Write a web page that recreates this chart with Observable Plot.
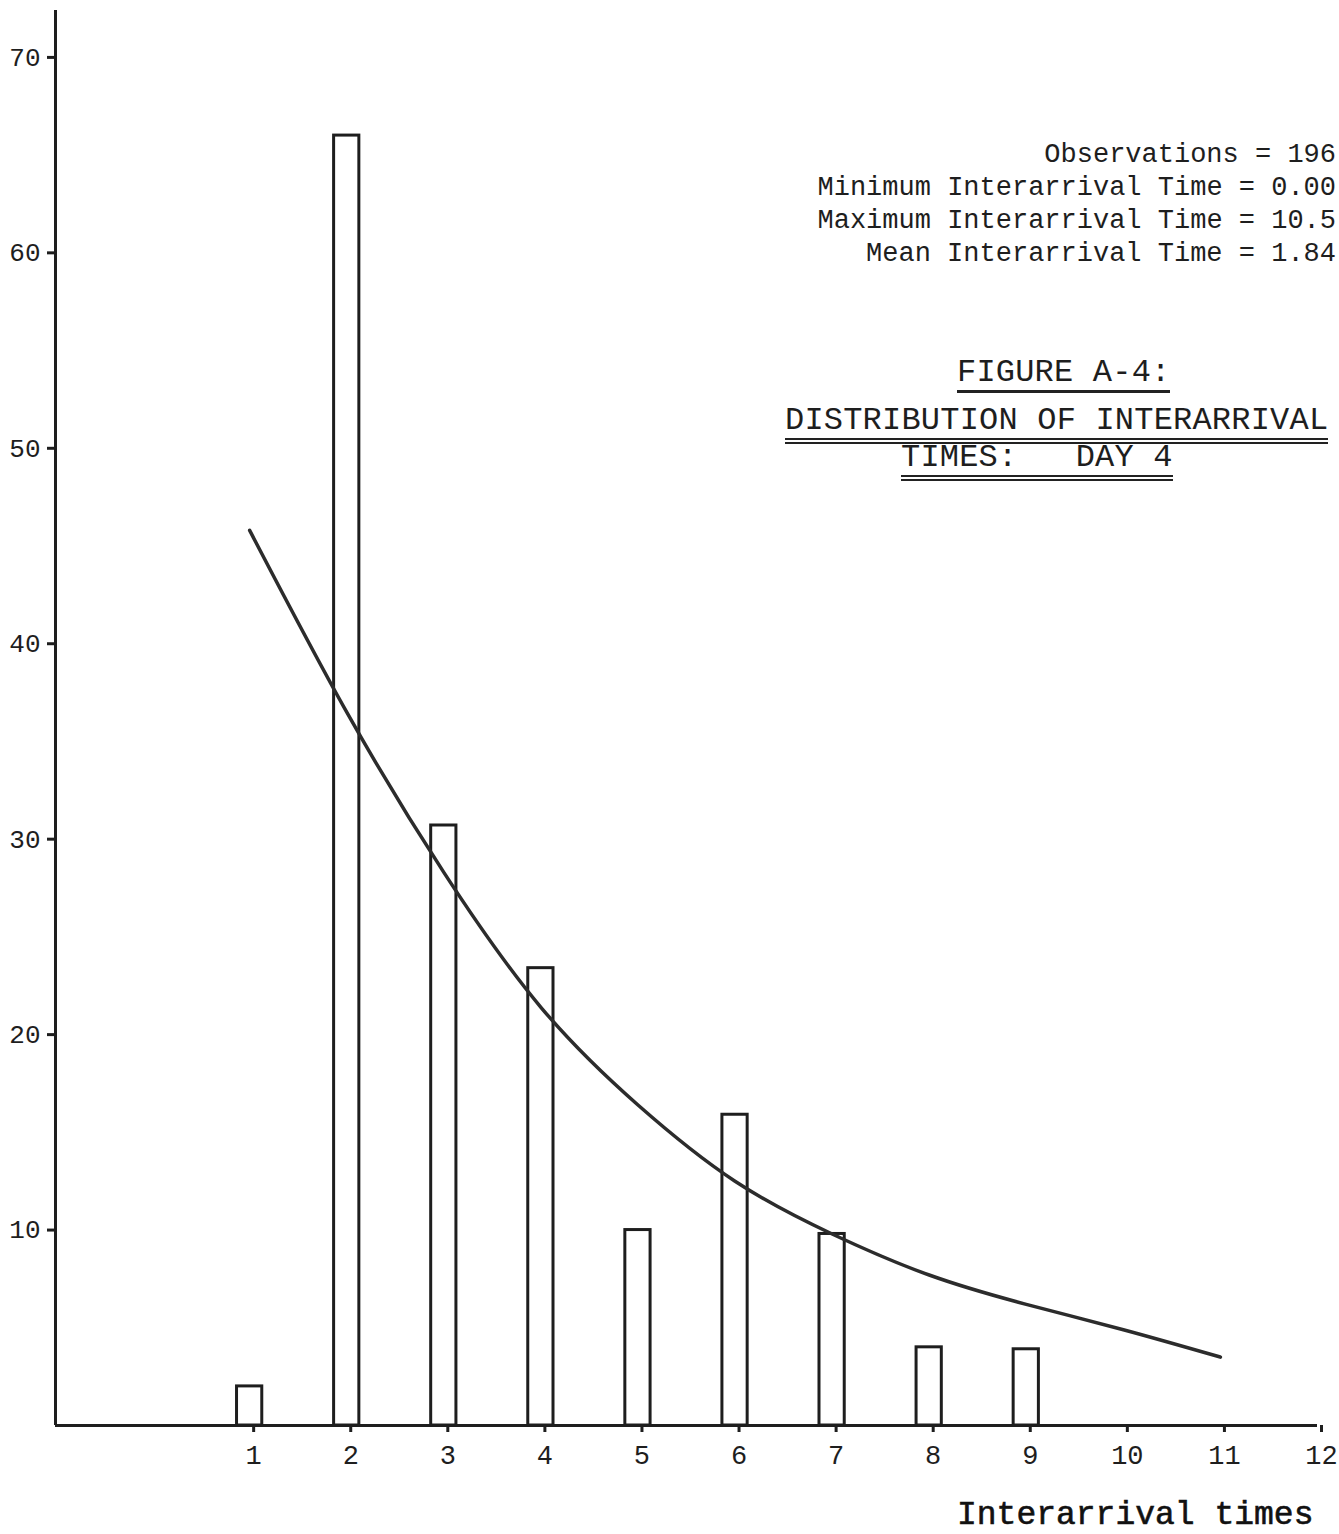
<!DOCTYPE html>
<html>
<head>
<meta charset="utf-8">
<script src="https://cdn.jsdelivr.net/npm/d3@7"></script>
<script src="https://cdn.jsdelivr.net/npm/@observablehq/plot@0.6"></script>
<style>
  html, body { margin: 0; padding: 0; background: #fff; }
  #wrap { position: relative; width: 1339px; height: 1534px; overflow: hidden; }
  .mono { font-family: "Liberation Mono", "DejaVu Sans Mono", monospace; color: #1e1e1e; position: absolute; white-space: pre; }
  #stats { right: 3px; top: 139px; font-size: 27px; line-height: 33px; text-align: right; }
  .tline { font-size: 32px; line-height: 34px; letter-spacing: 0.2px; }
  .u1 { border-bottom: 3px solid #222; padding-bottom: 0px; }
  .u2 { border-bottom: 6px double #222; padding-bottom: 0px; }
  #xlab { font-size: 33px; left: 957px; top: 1497px; color: #111; -webkit-text-stroke: 0.6px #111; }
</style>
</head>
<body>
<div id="wrap"></div>
<script>
// ---- data ----
const xTicks = [1, 2, 3, 4, 5, 6, 7, 8, 9, 10, 11, 12];
const yTicks = [10, 20, 30, 40, 50, 60, 70];
const binX = [1, 2, 3, 4, 5, 6, 7, 8, 9];
const counts = [2, 66, 30.7, 23.4, 10, 15.9, 9.8, 4, 3.9];
const curveX = [1, 2, 3, 4, 5, 6, 7, 8, 9, 10, 11];
const curveY = [45.8, 36.5, 28.3, 21.4, 16.4, 12.5, 9.8, 7.7, 6.2, 4.9, 3.5];
const xDomain = [-1, 12];
const yDomain = [0, 72.4];
const statLines = [
  "Observations = 196",
  "Minimum Interarrival Time = 0.00",
  "Maximum Interarrival Time = 10.5",
  "Mean Interarrival Time = 1.84"
];
const titleLines = ["FIGURE A-4:", "DISTRIBUTION OF INTERARRIVAL", "TIMES:   DAY 4"];
const xAxisLabel = "Interarrival times";

// ---- tables built from the arrays ----
const bars = binX.map((x, i) => ({x, count: counts[i]}));
const curve = curveX.map((x, i) => ({x, y: curveY[i]}));
const HALF = 0.13;
const ink = "#1e1e1e";

const chart = Plot.plot({
  width: 1339,
  height: 1534,
  marginLeft: 55,
  marginRight: 22,
  marginTop: 10,
  marginBottom: 109,
  style: {fontFamily: "'Liberation Mono', 'DejaVu Sans Mono', monospace", background: "white", color: ink},
  x: {domain: xDomain, label: null},
  y: {domain: yDomain, label: null},
  marks: [
    Plot.axisX({ticks: xTicks, tickSize: 7, tickPadding: 12, fontSize: 27, strokeWidth: 3, stroke: ink, dx: 4, tickFormat: d => String(d), label: null}),
    Plot.axisY({ticks: yTicks, tickSize: 8, tickPadding: 7, fontSize: 26, strokeWidth: 3, stroke: ink, tickFormat: d => String(d), label: null}),
    Plot.rectY(bars, {x1: d => d.x - HALF, x2: d => d.x + HALF, y: "count", fill: "white", stroke: ink, strokeWidth: 3}),
    Plot.line(curve, {x: "x", y: "y", curve: "natural", stroke: "#2c2c2c", strokeWidth: 3.5}),
    Plot.ruleY([yDomain[0]], {stroke: ink, strokeWidth: 3}),
    Plot.ruleX([xDomain[0]], {stroke: ink, strokeWidth: 3})
  ]
});

const wrap = document.getElementById("wrap");
wrap.appendChild(chart);

// stats block (right aligned)
const stats = document.createElement("div");
stats.id = "stats";
stats.className = "mono";
stats.textContent = statLines.join("\n");
wrap.appendChild(stats);

// title lines with underlines
const tPos = [{left: 957, top: 356, cls: "u1"}, {left: 785, top: 404, cls: "u2"}, {left: 901, top: 441, cls: "u2"}];
titleLines.forEach((t, i) => {
  const s = document.createElement("span");
  s.className = "mono tline " + tPos[i].cls;
  s.style.left = tPos[i].left + "px";
  s.style.top = tPos[i].top + "px";
  s.textContent = t;
  wrap.appendChild(s);
});

// x axis title
const xl = document.createElement("div");
xl.id = "xlab";
xl.className = "mono";
xl.textContent = xAxisLabel;
wrap.appendChild(xl);
</script>
</body>
</html>
